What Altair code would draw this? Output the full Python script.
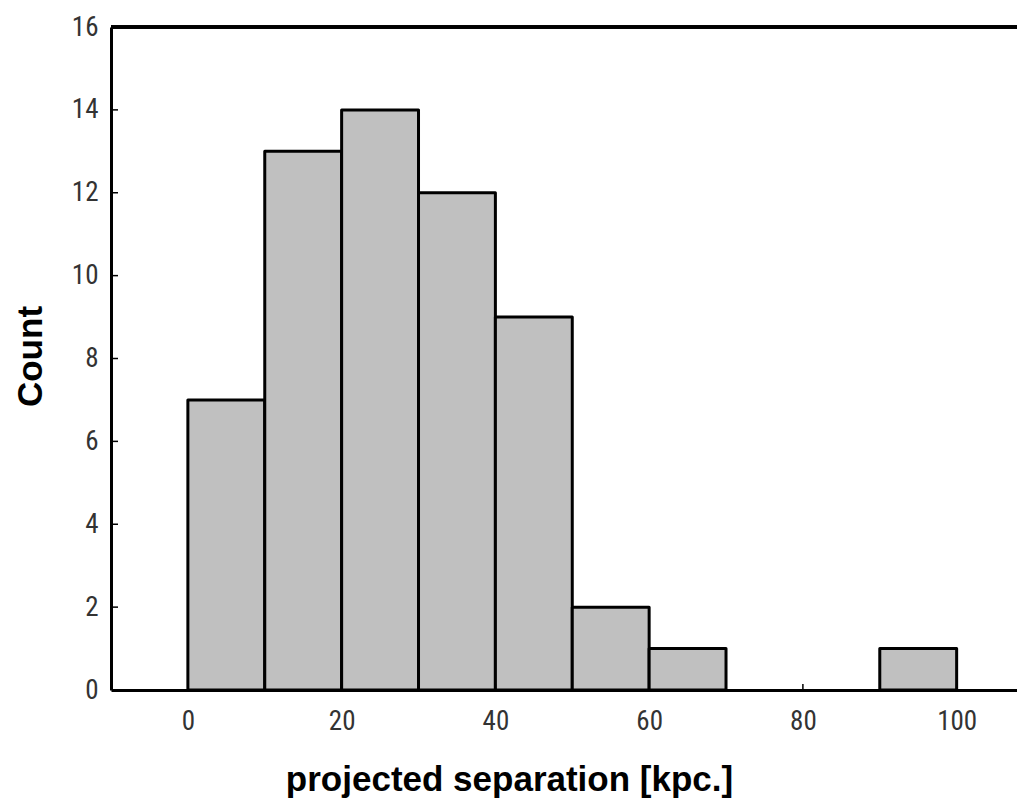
import altair as alt
import pandas as pd

# ---- data ----
bin_start = [0, 10, 20, 30, 40, 50, 60, 90]
bin_end = [10, 20, 30, 40, 50, 60, 70, 100]
counts = [7, 13, 14, 12, 9, 2, 1, 1]
x_ticks = [0, 20, 40, 60, 80, 100]
y_ticks = [0, 2, 4, 6, 8, 10, 12, 14, 16]
inner_y_ticks = [2, 4, 6, 8, 10, 12, 14]
x_title = "projected separation [kpc.]"
y_title = "Count"

W = 906
H = 663
LABEL_FONT = "Roboto Condensed, Liberation Sans Narrow, Arial Narrow, Liberation Sans, sans-serif"
TITLE_FONT = "Liberation Sans, Arial, sans-serif"

bars_df = pd.DataFrame({"start": bin_start, "end": bin_end, "count": counts})
xt_df = pd.DataFrame({"start": x_ticks})
yt_df = pd.DataFrame({"count": inner_y_ticks})

xscale = alt.Scale(domain=[-10, 107.85], nice=False, zero=False)
yscale = alt.Scale(domain=[0, 16], nice=False)

x_axis = alt.Axis(
    values=x_ticks,
    format="d",
    title=x_title,
    grid=False,
    ticks=False,
    domainColor="black",
    domainWidth=3,
    labelFont=LABEL_FONT,
    labelFontSize=27,
    labelColor="#333333",
    labelBaseline="top",
    labelPadding=18,
    titleFont=TITLE_FONT,
    titleFontSize=35,
    titleFontWeight="bold",
    titleColor="black",
    titleX=398,
    titleY=100,
    titleAlign="center",
    titleBaseline="alphabetic",
)

y_axis = alt.Axis(
    values=y_ticks,
    format="d",
    title=y_title,
    grid=False,
    ticks=False,
    domainColor="black",
    domainWidth=3,
    labelFont=LABEL_FONT,
    labelFontSize=27,
    labelColor="#333333",
    labelBaseline="middle",
    labelPadding=13,
    titleFont=TITLE_FONT,
    titleFontSize=35,
    titleFontWeight="bold",
    titleColor="black",
    titleAngle=270,
    titleX=-70,
    titleY=329,
    titleAlign="center",
    titleBaseline="alphabetic",
)

bars = alt.Chart(bars_df).mark_bar(
    fill="#c0c0c0", stroke="black", strokeWidth=3, strokeJoin="round"
).encode(
    x=alt.X("start:Q", scale=xscale, axis=x_axis, title=x_title),
    x2="end:Q",
    y=alt.Y("count:Q", scale=yscale, axis=y_axis, title=y_title),
    y2=alt.datum(0),
)

ytick_marks = alt.Chart(yt_df).mark_rule(color="black", strokeWidth=1.5).encode(
    y=alt.Y("count:Q", scale=yscale, axis=y_axis, title=y_title),
    x=alt.value(0),
    x2=alt.value(7),
)

xtick_marks = alt.Chart(xt_df).mark_rule(color="black", strokeWidth=1.5).encode(
    x=alt.X("start:Q", scale=xscale, axis=x_axis, title=x_title),
    y=alt.value(H),
    y2=alt.value(H - 6),
)

top_line = alt.Chart(xt_df).mark_rule(color="black", strokeWidth=3).encode(
    x=alt.value(0),
    x2=alt.value(W),
    y=alt.value(0),
)

chart = alt.layer(bars, ytick_marks, xtick_marks, top_line).properties(
    width=W,
    height=H,
    autosize=alt.AutoSizeParams(type="none"),
    padding={"left": 103, "top": 19, "right": 0, "bottom": 108},
).configure_view(stroke=None).configure(background="white")

chart.save("out.html", embed_options={"renderer": "svg", "actions": False})
